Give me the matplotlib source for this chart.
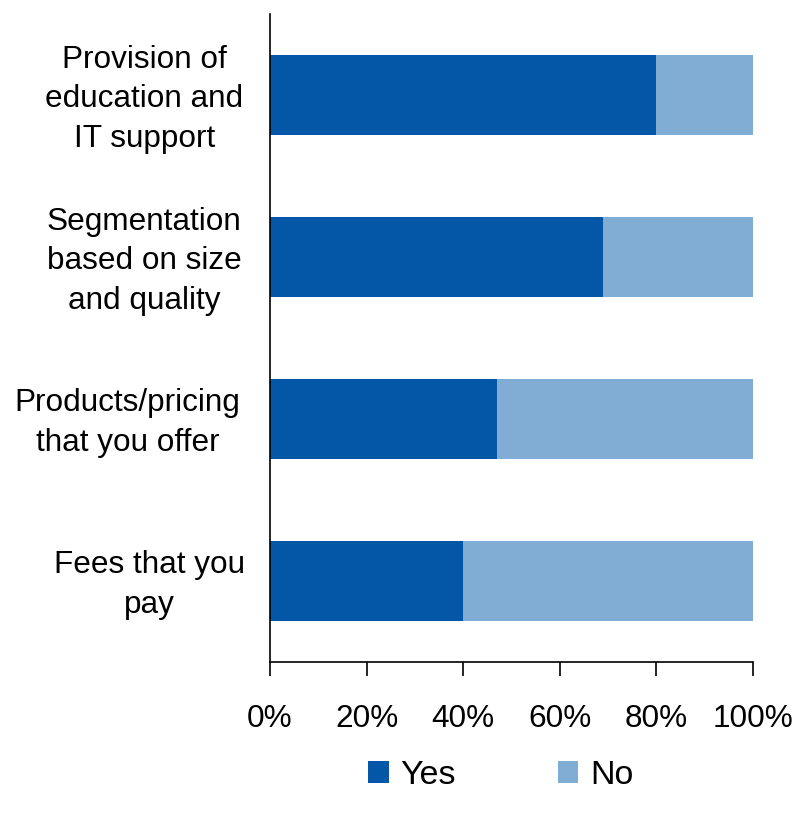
import matplotlib.pyplot as plt
import numpy as np

plt.rcParams['font.family'] = ['Liberation Sans', 'DejaVu Sans']

# Share of respondents (%) per topic
categories = ["Provision of\neducation and\nIT support",
              "Segmentation\nbased on size\nand quality",
              "Products/pricing\nthat you offer",
              "Fees that you\npay"]
yes = [80, 69, 47, 40]
no = [100 - v for v in yes]

# horizontal offset (points) of each wrapped label centre from the axis
label_offsets = [-90.4, -90.7, -102.6, -86.8]

col_yes = "#0357a6"
col_no = "#81add4"

fig = plt.figure(figsize=(8, 8.13), dpi=100)
ax = fig.add_axes([0.3375, 1 - 662 / 813, 0.6034, (662 - 14) / 813])

y = np.arange(len(categories))
ax.barh(y, yes, height=0.49, color=col_yes, label="Yes")
ax.barh(y, no, left=yes, height=0.49, color=col_no, label="No")

ax.set_ylim(len(categories) - 0.5, -0.5)
ax.set_xlim(0, 100)
ax.set_yticks(y)
ax.set_yticklabels([])
ax.tick_params(axis="y", length=0)
for yi, lab, off in zip(y, categories, label_offsets):
    ax.annotate(lab, xy=(0, yi), xycoords=("axes fraction", "data"),
                xytext=(off, -3), textcoords="offset points",
                ha="center", va="center", fontsize=22.7, linespacing=1.42)

ax.set_xticks(np.arange(0, 101, 20))
ax.set_xticklabels([f"{t}%" for t in range(0, 101, 20)], fontsize=22.7)
ax.tick_params(axis="x", length=10, width=1.2, pad=20, direction="out")

for s in ["top", "right"]:
    ax.spines[s].set_visible(False)
ax.spines["left"].set_linewidth(1.2)
ax.spines["bottom"].set_linewidth(1.2)

fig.legend(loc="center", bbox_to_anchor=(0.626, 0.0463), ncol=2, frameon=False,
           fontsize=24.5, handlelength=0.6, handleheight=0.6,
           handletextpad=0.35, columnspacing=2.98)

fig.savefig("out.png", dpi=100)
